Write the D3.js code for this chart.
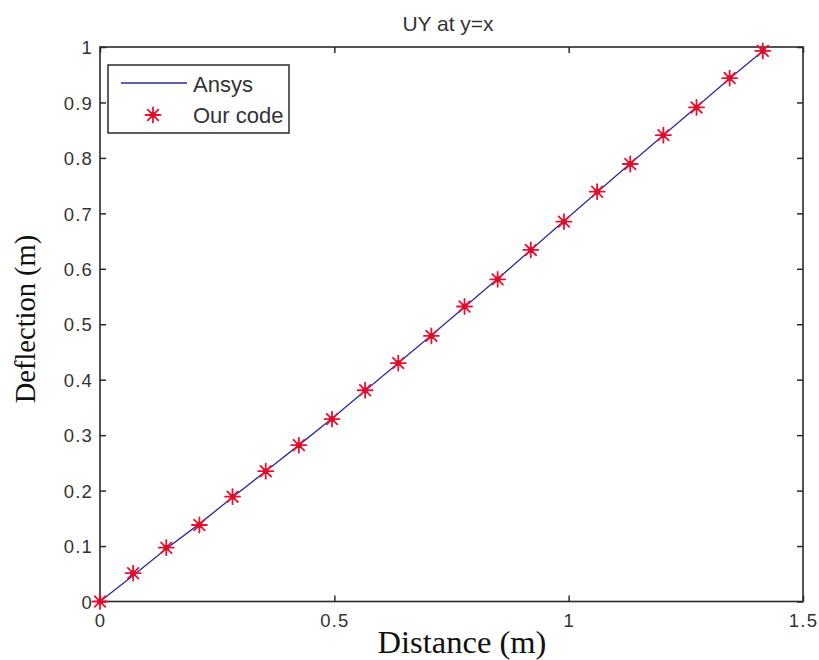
<!DOCTYPE html>
<html>
<head>
<meta charset="utf-8">
<script src="https://cdn.jsdelivr.net/npm/d3@7"></script>
<style>
  html, body { margin: 0; padding: 0; background: #fff; }
  svg { display: block; }
</style>
</head>
<body>
<svg id="chart" width="819" height="660"></svg>
<script>
// Sample positions along the diagonal y = x (distance from origin, m)
const distance = [0, 0.0707, 0.1414, 0.2121, 0.2828, 0.3536, 0.4243, 0.4950, 0.5657, 0.6364,
  0.7071, 0.7778, 0.8485, 0.9192, 0.9899, 1.0607, 1.1314, 1.2021, 1.2728, 1.3435, 1.4142];
// Reference FE solution (Ansys)
const ansysUY = [0, 0.047, 0.095, 0.140, 0.188, 0.235, 0.282, 0.330, 0.380, 0.430,
  0.480, 0.531, 0.582, 0.634, 0.686, 0.738, 0.790, 0.841, 0.892, 0.943, 0.993];
// Our solver's result
const ourUY = [0, 0.051, 0.097, 0.138, 0.189, 0.235, 0.282, 0.329, 0.381, 0.430,
  0.479, 0.532, 0.581, 0.634, 0.685, 0.739, 0.789, 0.841, 0.891, 0.944, 0.993];

const xTicks = [0, 0.5, 1, 1.5];
const yTicks = [0, 0.1, 0.2, 0.3, 0.4, 0.5, 0.6, 0.7, 0.8, 0.9, 1];
const seriesNames = ["Ansys", "Our code"];

const svg = d3.select("#chart");
const L = 100, R = 803, T = 47, B = 601.5;

const x = d3.scaleLinear().domain([0, 1.5]).range([L, R]);
const y = d3.scaleLinear().domain([0, 1]).range([B, T]);

const axisColor = "#2a2a2a";
const lineColor = "#2b2ba0";
const starColor = "#ee1030";
const tickFont = "'Liberation Sans', Arial, sans-serif";

// Plot frame
svg.append("rect")
  .attr("x", L).attr("y", T).attr("width", R - L).attr("height", B - T)
  .attr("fill", "#fff").attr("stroke", axisColor).attr("stroke-width", 1.6);

const tickLen = 6;
const fmt = d => d3.format("")(+d.toFixed(1));

// Bottom axis (ticks pointing inward)
const gx = svg.append("g").attr("transform", `translate(0,${B})`)
  .call(d3.axisBottom(x).tickValues(xTicks).tickFormat(fmt).tickSizeInner(-tickLen).tickSizeOuter(0).tickPadding(12));
// Top mirror ticks
const gxt = svg.append("g").attr("transform", `translate(0,${T})`)
  .call(d3.axisTop(x).tickValues(xTicks).tickFormat("").tickSizeInner(-tickLen).tickSizeOuter(0));
// Left axis
const gy = svg.append("g").attr("transform", `translate(${L},0)`)
  .call(d3.axisLeft(y).tickValues(yTicks).tickFormat(fmt).tickSizeInner(-tickLen).tickSizeOuter(0).tickPadding(7));
// Right mirror ticks
const gyr = svg.append("g").attr("transform", `translate(${R},0)`)
  .call(d3.axisRight(y).tickValues(yTicks).tickFormat("").tickSizeInner(-tickLen).tickSizeOuter(0));

[gx, gxt, gy, gyr].forEach(g => {
  g.select(".domain").remove();
  g.selectAll(".tick line").attr("stroke", axisColor).attr("stroke-width", 1.5);
  g.selectAll(".tick text")
    .attr("fill", "#333")
    .style("font-family", tickFont)
    .style("font-size", "18.5px")
    .style("letter-spacing", "1.2px");
});
gy.selectAll(".tick text").attr("dy", "0.36em");
gx.selectAll(".tick text").attr("dy", "0.71em");

// Ansys curve
svg.append("path")
  .datum(distance.map((d, i) => [d, ansysUY[i]]))
  .attr("fill", "none")
  .attr("stroke", lineColor)
  .attr("stroke-width", 1.3)
  .attr("d", d3.line().x(d => x(d[0])).y(d => y(d[1])));

// Star marker (MATLAB-style '*')
function star(g, cx, cy, r) {
  const s = g.append("g").attr("transform", `translate(${cx},${cy})`);
  const d = r * Math.SQRT1_2;
  const segs = [[-r, 0, r, 0], [0, -r, 0, r], [-d, -d, d, d], [-d, d, d, -d]];
  segs.forEach(([x1, y1, x2, y2]) => {
    s.append("line").attr("x1", x1).attr("y1", y1).attr("x2", x2).attr("y2", y2)
      .attr("stroke", starColor).attr("stroke-width", 1.8).attr("stroke-linecap", "round");
  });
  s.append("circle").attr("r", 3).attr("fill", "#d8102c");
}

const markers = svg.append("g");
distance.forEach((d, i) => star(markers, x(d), y(ourUY[i]), 7.5));

// Title
svg.append("text")
  .attr("x", 448).attr("y", 31)
  .attr("text-anchor", "middle")
  .style("font-family", tickFont)
  .style("font-size", "21px")
  .attr("fill", "#333")
  .text("UY at y=x");

// Axis labels
const serif = "'Liberation Serif', 'Times New Roman', serif";
svg.append("text")
  .attr("x", 462).attr("y", 653)
  .attr("text-anchor", "middle")
  .style("font-family", serif)
  .style("font-size", "32.5px")
  .attr("fill", "#111")
  .text("Distance (m)");

svg.append("text")
  .attr("transform", "translate(35,319) rotate(-90)")
  .attr("text-anchor", "middle")
  .style("font-family", serif)
  .style("font-size", "28.5px")
  .attr("fill", "#111")
  .text("Deflection (m)");

// Legend
const lg = svg.append("g");
lg.append("rect")
  .attr("x", 108).attr("y", 65).attr("width", 181).attr("height", 68)
  .attr("fill", "#fff").attr("stroke", axisColor).attr("stroke-width", 1.5);
lg.append("line")
  .attr("x1", 121).attr("x2", 187).attr("y1", 83).attr("y2", 83)
  .attr("stroke", lineColor).attr("stroke-width", 1.3);
star(lg, 153, 115, 7.5);
lg.selectAll("text.lbl").data(seriesNames).join("text")
  .attr("class", "lbl")
  .attr("x", 193)
  .attr("y", (d, i) => 92 + i * 31)
  .style("font-family", tickFont)
  .style("font-size", "22px")
  .attr("fill", "#333")
  .text(d => d);
</script>
</body>
</html>
